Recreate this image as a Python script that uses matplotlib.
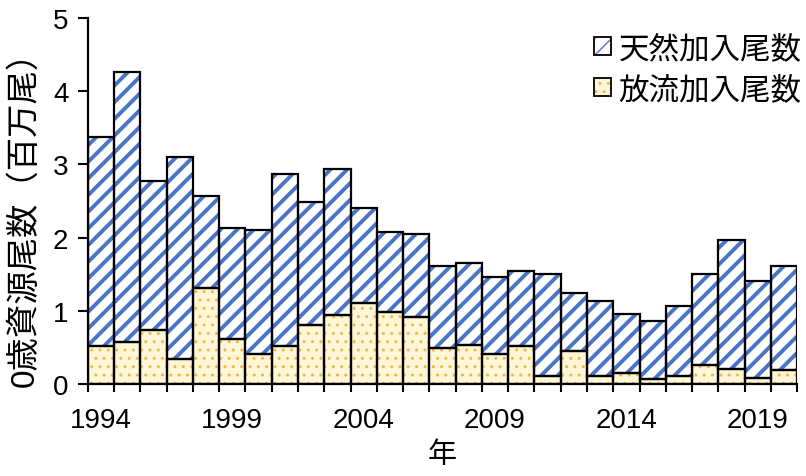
import numpy as np
import matplotlib as mpl
import matplotlib.pyplot as plt
from matplotlib.ticker import FixedLocator
from matplotlib.legend_handler import HandlerTuple

plt.rcParams['font.family'] = ['Liberation Sans', 'Noto Sans CJK JP', 'DejaVu Sans']

# data (millions of fish)
years = np.arange(1994, 2021)
total = [3.37, 4.26, 2.77, 3.10, 2.57, 2.13, 2.11, 2.87, 2.48, 2.93,
         2.40, 2.08, 2.05, 1.62, 1.66, 1.46, 1.54, 1.50, 1.24, 1.14,
         0.96, 0.87, 1.07, 1.50, 1.97, 1.41, 1.61]
released = [0.52, 0.58, 0.74, 0.34, 1.31, 0.62, 0.41, 0.52, 0.81, 0.94,
            1.11, 0.99, 0.92, 0.49, 0.54, 0.42, 0.52, 0.12, 0.46, 0.11,
            0.16, 0.08, 0.12, 0.27, 0.21, 0.09, 0.19]
natural = np.array(total) - np.array(released)
label_years = [1994, 1999, 2004, 2009, 2014, 2019]

blue = '#4a74c8'
dot_col = '#e9bb4c'
pale = '#fff6d8'

fig = plt.figure(figsize=(8.06, 4.77), dpi=100)
ax = fig.add_axes([0.109, 0.192, 0.88, 0.769])

# released (bottom) - pale yellow with small dots
with mpl.rc_context({'hatch.linewidth': 1.0}):
    ax.bar(years, released, width=1.0, color=pale, edgecolor=dot_col,
           hatch='..', linewidth=0)
    h2 = plt.Rectangle((0, 0), 1, 1, facecolor=pale, edgecolor=dot_col,
                       hatch='..', linewidth=0)
# natural (top) - blue diagonal stripes
with mpl.rc_context({'hatch.linewidth': 2.8}):
    ax.bar(years, natural, bottom=released, width=1.0, color='white',
           edgecolor=blue, hatch='//', linewidth=0)
    h1 = plt.Rectangle((0, 0), 1, 1, facecolor='white', edgecolor=blue,
                       hatch='//', linewidth=0)
# black outlines
ax.bar(years, released, width=1.0, fill=False, edgecolor='black', linewidth=1.6)
ax.bar(years, natural, bottom=released, width=1.0, fill=False,
       edgecolor='black', linewidth=1.6)

box1 = plt.Rectangle((0, 0), 1, 1, fill=False, edgecolor='black', linewidth=1.3)
box2 = plt.Rectangle((0, 0), 1, 1, fill=False, edgecolor='black', linewidth=1.3)
ax.legend([(h1, box1), (h2, box2)], ['天然加入尾数', '放流加入尾数'],
          handler_map={tuple: HandlerTuple(ndivide=1)},
          loc='upper right', bbox_to_anchor=(1.045, 1.03), frameon=False,
          fontsize=22, handlelength=0.55, handleheight=0.55, handletextpad=0.25,
          labelspacing=0.35)

ax.set_xlim(1993.5, 2020.5)
ax.set_ylim(0, 5)
ax.set_yticks(range(6))
ax.set_xticks(label_years)
ax.xaxis.set_minor_locator(FixedLocator(np.arange(1993.5, 2021, 1)))
ax.tick_params(axis='x', which='major', length=0, pad=16, labelsize=20)
ax.tick_params(axis='x', which='minor', length=6, width=1.5, direction='out')
ax.tick_params(axis='y', length=7, width=1.5, labelsize=20, pad=7)

for s in ['top', 'right']:
    ax.spines[s].set_visible(False)
for s in ['left', 'bottom']:
    ax.spines[s].set_linewidth(1.6)

ax.set_xlabel('年', fontsize=21, labelpad=5)
ax.set_ylabel('0歳資源尾数（百万尾）', fontsize=24)
ax.yaxis.set_label_coords(-0.066, 0.475)

fig.savefig('out.png', dpi=100)
